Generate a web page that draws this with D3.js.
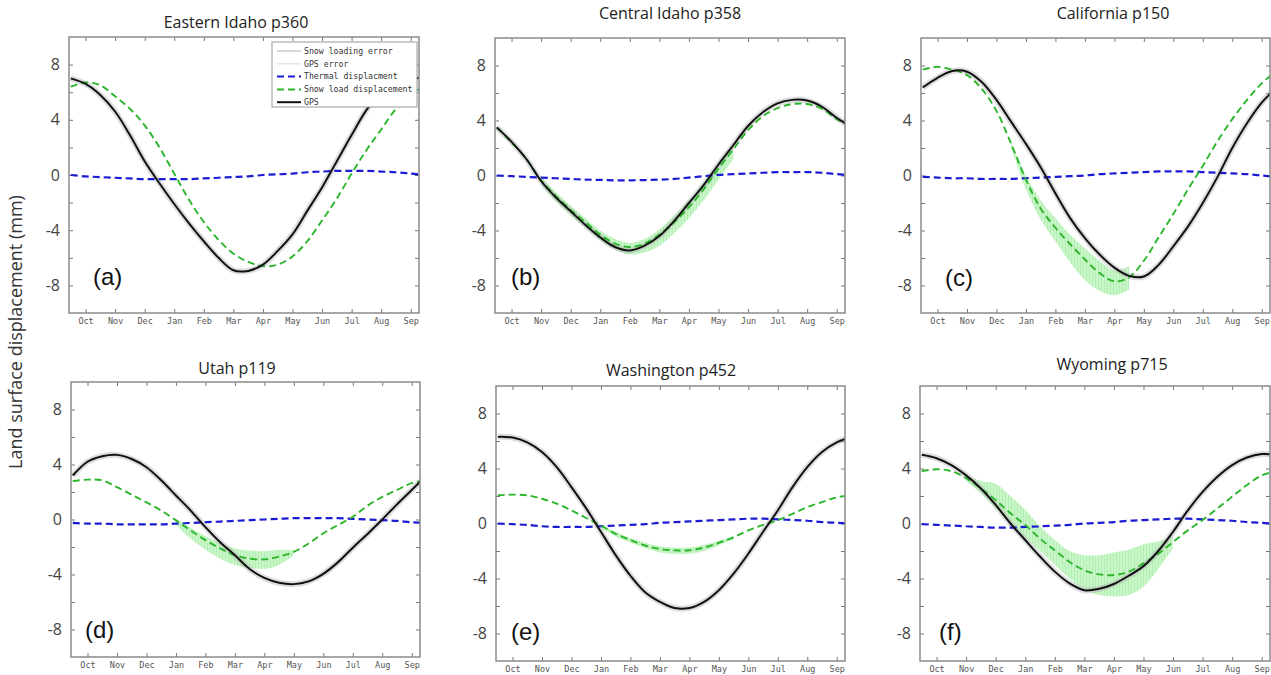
<!DOCTYPE html>
<html>
<head>
<meta charset="utf-8">
<script src="https://cdn.jsdelivr.net/npm/d3@7"></script>
<style>
  body { margin: 0; background: #fff; }
  svg { display: block; }
  .tick text { fill: #444; }
</style>
</head>
<body>
<div id="chart"></div>
<script>
// month axis (0 = start of Oct) and the sample positions of every series
const months = ['Oct','Nov','Dec','Jan','Feb','Mar','Apr','May','Jun','Jul','Aug','Sep'];
const monthTicks = [0,1,2,3,4,5,6,7,8,9,10,11];
const tPts = [-0.5,0,0.5,1,1.5,2,2.5,3,3.5,4,4.5,5,5.5,6,6.5,7,7.5,8,8.5,9,9.5,10,10.5,11,11.5];
const yTickVals = [-8,-6,-4,-2,0,2,4,6,8];

const titles = ['Eastern Idaho p360','Central Idaho p358','California p150','Utah p119','Washington p452','Wyoming p715'];
const tags = ['(a)','(b)','(c)','(d)','(e)','(f)'];

// (a) Eastern Idaho
const gpsA     = [7.0,6.6,5.8,4.6,2.9,1.0,-0.6,-2.1,-3.5,-4.8,-6.0,-6.9,-6.95,-6.5,-5.5,-4.3,-2.6,-0.9,1.0,2.9,4.7,6.0,6.7,7.0,7.0];
const snowA    = [6.4,6.7,6.5,5.7,4.8,3.6,2.0,0.1,-1.8,-3.4,-4.7,-5.7,-6.3,-6.6,-6.5,-5.9,-4.8,-3.3,-1.7,0.1,1.8,3.3,4.8,5.9,6.4];
const thermalA = [0.0,-0.1,-0.15,-0.2,-0.25,-0.3,-0.3,-0.3,-0.3,-0.25,-0.2,-0.15,-0.1,0.0,0.05,0.1,0.2,0.25,0.3,0.3,0.3,0.25,0.2,0.1,0.0];

// (b) Central Idaho
const gpsB     = [3.5,2.45,1.2,-0.4,-1.6,-2.6,-3.6,-4.5,-5.2,-5.45,-5.1,-4.4,-3.3,-2.0,-0.7,0.8,2.2,3.6,4.6,5.25,5.5,5.45,5.0,4.2,3.5];
const snowB    = [3.5,2.4,1.2,-0.35,-1.5,-2.5,-3.4,-4.3,-4.95,-5.2,-4.95,-4.3,-3.4,-2.3,-1.0,0.5,1.9,3.3,4.3,4.9,5.2,5.2,4.85,4.1,3.5];
const thermalB = [0.0,-0.05,-0.1,-0.15,-0.2,-0.25,-0.3,-0.32,-0.35,-0.35,-0.33,-0.3,-0.25,-0.15,-0.05,0.05,0.1,0.15,0.2,0.25,0.25,0.25,0.2,0.1,0.0];
const snowLoB  = [null,null,null,-0.7,-1.9,-2.9,-3.8,-4.7,-5.4,-5.75,-5.6,-5.1,-4.2,-3.1,-1.8,-0.3,1.2,null,null,null,null,null,null,null,null];
const snowHiB  = [null,null,null,-0.1,-1.2,-2.2,-3.1,-4.0,-4.6,-4.9,-4.6,-3.9,-2.9,-1.8,-0.5,0.9,2.2,null,null,null,null,null,null,null,null];

// (c) California
const gpsC     = [6.4,7.1,7.6,7.55,6.8,5.5,3.9,2.3,0.6,-1.3,-3.1,-4.55,-5.75,-6.7,-7.3,-7.35,-6.5,-5.15,-3.7,-2.0,-0.1,2.0,3.8,5.3,6.4];
const snowC    = [7.7,7.9,7.7,7.3,6.3,4.7,2.3,-0.3,-2.4,-3.8,-5.0,-6.1,-7.1,-7.7,-7.4,-6.2,-4.5,-2.8,-1.0,0.7,2.5,4.1,5.5,6.7,7.6];
const thermalC = [-0.1,-0.15,-0.2,-0.2,-0.25,-0.25,-0.25,-0.2,-0.15,-0.1,-0.05,0.0,0.1,0.15,0.2,0.25,0.3,0.3,0.3,0.25,0.2,0.15,0.1,0.0,-0.1];
const snowLoC  = [null,null,null,null,null,null,2.0,-1.0,-3.2,-4.8,-6.3,-7.6,-8.4,-8.7,-8.3,null,null,null,null,null,null,null,null,null,null];
const snowHiC  = [null,null,null,null,null,null,2.5,0.0,-1.8,-3.1,-4.3,-5.3,-6.2,-6.9,-6.6,null,null,null,null,null,null,null,null,null,null];

// (d) Utah
const gpsD     = [3.2,4.2,4.6,4.7,4.4,3.8,2.85,1.75,0.65,-0.55,-1.65,-2.6,-3.6,-4.25,-4.6,-4.7,-4.5,-3.95,-3.1,-2.05,-1.05,0.0,1.1,2.15,3.2];
const snowD    = [2.8,2.9,2.85,2.35,1.8,1.25,0.65,-0.05,-0.8,-1.5,-2.1,-2.6,-2.85,-2.9,-2.7,-2.35,-1.75,-1.0,-0.4,0.2,1.0,1.65,2.15,2.65,2.85];
const thermalD = [-0.25,-0.3,-0.3,-0.35,-0.35,-0.35,-0.35,-0.3,-0.25,-0.2,-0.15,-0.1,-0.05,0.0,0.05,0.1,0.1,0.1,0.1,0.05,0.0,-0.05,-0.1,-0.2,-0.25];
const snowLoD  = [null,null,null,null,null,null,null,-0.4,-1.4,-2.2,-2.85,-3.3,-3.5,-3.6,-3.3,-2.6,null,null,null,null,null,null,null,null,null];
const snowHiD  = [null,null,null,null,null,null,null,0.05,-0.6,-1.2,-1.75,-2.1,-2.25,-2.3,-2.2,-2.2,null,null,null,null,null,null,null,null,null];

// (e) Washington
const gpsE     = [6.3,6.25,5.9,5.2,4.1,2.65,1.1,-0.6,-2.3,-3.8,-5.0,-5.7,-6.15,-6.15,-5.7,-4.85,-3.65,-2.2,-0.6,0.95,2.65,4.1,5.2,5.9,6.3];
const snowE    = [2.05,2.1,2.05,1.8,1.45,0.95,0.4,-0.15,-0.75,-1.2,-1.6,-1.85,-1.95,-1.95,-1.75,-1.4,-1.0,-0.5,-0.1,0.25,0.7,1.2,1.55,1.9,2.05];
const thermalE = [0.0,-0.05,-0.1,-0.2,-0.25,-0.25,-0.25,-0.2,-0.15,-0.1,-0.05,0.05,0.1,0.15,0.2,0.25,0.3,0.35,0.35,0.3,0.25,0.2,0.1,0.05,0.0];
const snowLoE  = [null,null,null,null,null,null,null,-0.35,-0.95,-1.4,-1.8,-2.1,-2.2,-2.2,-2.0,-1.6,-1.15,null,null,null,null,null,null,null,null];
const snowHiE  = [null,null,null,null,null,null,null,-0.05,-0.6,-1.05,-1.4,-1.65,-1.75,-1.75,-1.55,-1.25,-0.9,null,null,null,null,null,null,null,null];

// (f) Wyoming
const gpsF     = [5.0,4.75,4.25,3.5,2.55,1.35,0.0,-1.2,-2.4,-3.5,-4.35,-4.85,-4.75,-4.4,-3.8,-3.1,-2.0,-0.6,0.95,2.3,3.4,4.25,4.8,5.05,5.0];
const snowF    = [3.8,3.95,3.8,3.3,2.55,1.7,0.75,-0.1,-1.1,-1.95,-2.8,-3.4,-3.7,-3.75,-3.5,-2.9,-2.2,-1.35,-0.5,0.25,1.1,1.95,2.8,3.5,3.8];
const thermalF = [-0.05,-0.1,-0.15,-0.2,-0.25,-0.3,-0.3,-0.25,-0.2,-0.15,-0.1,0.0,0.05,0.1,0.2,0.25,0.3,0.35,0.35,0.3,0.25,0.2,0.1,0.05,-0.05];
const snowLoF  = [null,null,null,3.1,2.2,1.1,0.0,-1.0,-2.0,-3.0,-4.0,-4.8,-5.2,-5.3,-5.2,-4.6,-3.3,-1.8,null,null,null,null,null,null,null];
const snowHiF  = [null,null,null,3.45,3.1,2.9,2.0,1.0,-0.2,-1.2,-2.0,-2.3,-2.3,-2.1,-1.9,-1.5,-1.3,-0.9,null,null,null,null,null,null,null];

const legendLabels = ['Snow loading error','GPS error','Thermal displacment','Snow load displacement','GPS'];

// panel frames on the page
const boxes = [
  {x:69,  y:37,  w:350, h:276, title:[236,22],  tag:[93,277]},
  {x:495, y:38,  w:350, h:275, title:[670,13],  tag:[511,277]},
  {x:921, y:38,  w:349, h:275, title:[1113,13], tag:[945,278]},
  {x:71,  y:382, w:349, h:275, title:[237,368], tag:[85,630]},
  {x:496, y:386, w:349, h:275, title:[671,370], tag:[511,632]},
  {x:920, y:386, w:350, h:275, title:[1112,364],tag:[939,632]}
];

const series = [
  {gps:gpsA, snow:snowA, thermal:thermalA, lo:null,    hi:null},
  {gps:gpsB, snow:snowB, thermal:thermalB, lo:snowLoB, hi:snowHiB},
  {gps:gpsC, snow:snowC, thermal:thermalC, lo:snowLoC, hi:snowHiC},
  {gps:gpsD, snow:snowD, thermal:thermalD, lo:snowLoD, hi:snowHiD},
  {gps:gpsE, snow:snowE, thermal:thermalE, lo:snowLoE, hi:snowHiE},
  {gps:gpsF, snow:snowF, thermal:thermalF, lo:snowLoF, hi:snowHiF}
];

const colors = {gps:'#111', halo:'#b4b4b4', snow:'#2bb52b', thermal:'#1b1bd3', band:'#c8f6c8', frame:'#8a8a8a'};
const sans = "'Open Sans', 'Noto Sans', sans-serif";
const mono = "'DejaVu Sans Mono', monospace";

const svg = d3.select('#chart').append('svg')
  .attr('width', 1271).attr('height', 675);

// pale hatched fill for the snow loading error band
const defs = svg.append('defs');
const pat = defs.append('pattern').attr('id','bandHatch')
  .attr('patternUnits','userSpaceOnUse').attr('width',3).attr('height',6);
pat.append('rect').attr('width',3).attr('height',6).attr('fill',colors.band);
pat.append('rect').attr('width',1).attr('height',6).attr('fill','#b3efb3');

svg.append('text')
  .attr('transform','translate(22,332) rotate(-90)')
  .attr('text-anchor','middle')
  .style('font-family', sans).style('font-size','18px').style('fill','#333')
  .text('Land surface displacement (mm)');

boxes.forEach((b, p) => {
  const s = series[p];
  const x = d3.scaleLinear().domain([-0.56, 11.28]).range([b.x, b.x + b.w]);
  const y = d3.scaleLinear().domain([-10, 10]).range([b.y + b.h, b.y]);

  const g = svg.append('g');
  defs.append('clipPath').attr('id','clip' + p)
    .append('rect').attr('x',b.x).attr('y',b.y).attr('width',b.w).attr('height',b.h);

  g.append('text')
    .attr('x', b.title[0]).attr('y', b.title[1]).attr('dy','0.35em')
    .attr('text-anchor','middle')
    .style('font-family', sans).style('font-size','16px').style('fill','#222')
    .text(titles[p]);

  // axes: inward ticks on all four sides
  const left = g.append('g').attr('transform',`translate(${b.x},0)`)
    .call(d3.axisLeft(y).tickValues(yTickVals).tickSize(-4).tickPadding(9)
      .tickFormat(d => d % 4 === 0 ? String(d) : ''));
  left.selectAll('text').style('font-family', sans).style('font-size','16px');
  g.append('g').attr('transform',`translate(${b.x + b.w},0)`)
    .call(d3.axisRight(y).tickValues(yTickVals).tickSize(-4).tickFormat(''));
  const bottom = g.append('g').attr('transform',`translate(0,${b.y + b.h})`)
    .call(d3.axisBottom(x).tickValues(monthTicks).tickSize(-4).tickPadding(5)
      .tickFormat(i => months[i]));
  bottom.selectAll('text').style('font-family', mono).style('font-size','8.5px').style('fill','#555');
  g.append('g').attr('transform',`translate(0,${b.y})`)
    .call(d3.axisTop(x).tickValues(monthTicks).tickSize(-4).tickFormat(''));
  g.selectAll('.domain').remove();
  g.selectAll('.tick line').attr('stroke','#777');

  const plot = g.append('g').attr('clip-path',`url(#clip${p})`);
  const line = d3.line().x((d, i) => x(tPts[i])).y(d => y(d)).curve(d3.curveCatmullRom);

  if (s.lo) {
    const band = d3.area()
      .defined((d, i) => s.lo[i] != null)
      .x((d, i) => x(tPts[i]))
      .y0((d, i) => y(s.lo[i])).y1((d, i) => y(s.hi[i]))
      .curve(d3.curveCatmullRom);
    plot.append('path').attr('d', band(s.lo)).attr('fill','url(#bandHatch)');
  }

  plot.append('path').attr('d', line(s.gps)).attr('fill','none')
    .attr('stroke', colors.halo).attr('stroke-width',6).attr('stroke-opacity',0.45);
  plot.append('path').attr('d', line(s.thermal)).attr('fill','none')
    .attr('stroke', colors.thermal).attr('stroke-width',2.2).attr('stroke-dasharray','7,4');
  plot.append('path').attr('d', line(s.snow)).attr('fill','none')
    .attr('stroke', colors.snow).attr('stroke-width',1.9).attr('stroke-dasharray','7,4');
  plot.append('path').attr('d', line(s.gps)).attr('fill','none')
    .attr('stroke', colors.gps).attr('stroke-width',2);

  g.append('rect').attr('x',b.x).attr('y',b.y).attr('width',b.w).attr('height',b.h)
    .attr('fill','none').attr('stroke', colors.frame).attr('stroke-width',1.5);

  g.append('text')
    .attr('x', b.tag[0]).attr('y', b.tag[1]).attr('dy','0.35em')
    .style('font-family',"'Liberation Sans', Arial, sans-serif").style('font-size','24px').style('fill','#111')
    .text(tags[p]);
});

// legend, first panel only
const leg = svg.append('g').attr('transform','translate(272,42)');
leg.append('rect').attr('width',145).attr('height',65)
  .attr('fill','#fff').attr('stroke','#999').attr('stroke-width',1);
const legStyles = [
  {stroke:'#d8d8d8', dash:null, w:2},
  {stroke:'#e6e6e6', dash:null, w:1.5},
  {stroke:colors.thermal, dash:'7,4', w:2},
  {stroke:colors.snow, dash:'7,4', w:2},
  {stroke:colors.gps, dash:null, w:2}
];
legendLabels.forEach((lab, i) => {
  const ly = 9 + i * 12.8;
  leg.append('line').attr('x1',5).attr('x2',29).attr('y1',ly).attr('y2',ly)
    .attr('stroke', legStyles[i].stroke).attr('stroke-width', legStyles[i].w)
    .attr('stroke-dasharray', legStyles[i].dash);
  leg.append('text').attr('x',32).attr('y',ly).attr('dy','0.35em')
    .style('font-family', mono).style('font-size','8.2px').style('fill','#333')
    .text(lab);
});
</script>
</body>
</html>
